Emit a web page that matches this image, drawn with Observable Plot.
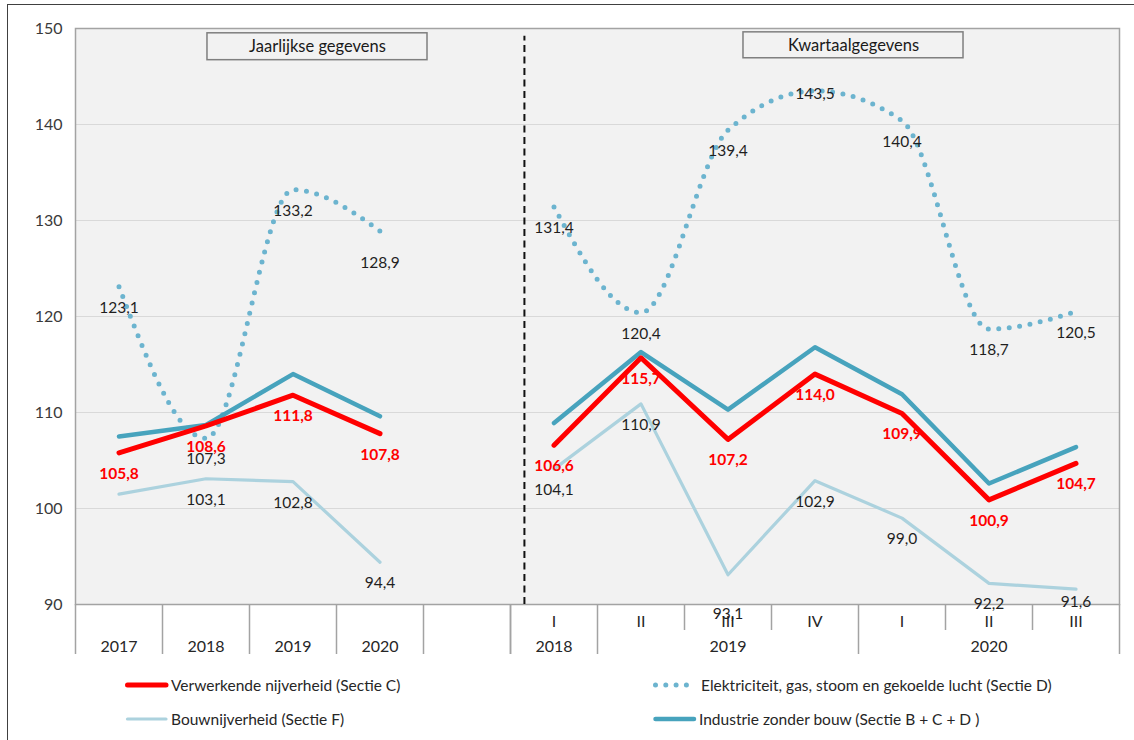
<!DOCTYPE html>
<html><head><meta charset="utf-8">
<script src="https://cdn.jsdelivr.net/npm/d3@7"></script>
<script src="https://cdn.jsdelivr.net/npm/@observablehq/plot@0.6"></script>
<style>
html,body{margin:0;padding:0;background:#fff;overflow:hidden;font-family:Lato,"Noto Sans",sans-serif;}
#chart{position:absolute;left:0;top:0;}
#frame{position:absolute;left:7px;top:4px;width:1200px;height:800px;border-left:1.5px solid #404040;border-top:1.5px solid #404040;pointer-events:none;z-index:5;}
.leg{position:absolute;display:flex;align-items:center;font-size:15.5px;color:#262626;white-space:nowrap;height:20px;}
.leg svg{display:block;margin-right:2px;}
</style></head><body>
<div id="chart"></div><div id="legend"></div><div id="frame"></div>
<script>
// ---- data ----
const annualCats = ["2017", "2018", "2019", "2020"];
const quarterCats = ["I", "II", "III", "IV", "I", "II", "III"];
const quarterYears = ["2018", "2019", "2019", "2019", "2020", "2020", "2020"];

const seriesC = "Verwerkende nijverheid (Sectie C)";
const seriesD = "Elektriciteit, gas, stoom en gekoelde lucht (Sectie D)";
const seriesF = "Bouwnijverheid (Sectie F)";
const seriesT = "Industrie zonder bouw (Sectie B + C + D )";

const sectieC_annual = [105.8, 108.6, 111.8, 107.8];
const sectieC_quarter = [106.6, 115.7, 107.2, 114.0, 109.9, 100.9, 104.7];
const sectieD_annual = [123.1, 107.3, 133.2, 128.9];
const sectieD_quarter = [131.4, 120.4, 139.4, 143.5, 140.4, 118.7, 120.5];
const sectieF_annual = [101.5, 103.1, 102.8, 94.4];
const sectieF_quarter = [104.1, 110.9, 93.1, 102.9, 99.0, 92.2, 91.6];
const industrie_annual = [107.5, 108.7, 114.0, 109.6];
const industrie_quarter = [108.9, 116.3, 110.3, 116.8, 111.9, 102.6, 106.4];

const yTicks = [90, 100, 110, 120, 130, 140, 150];
const panelTitles = ["Jaarlijkse gegevens", "Kwartaalgegevens"];
const legendOrder = [seriesC, seriesD, seriesF, seriesT];

// ---- build table ----
const qStart = annualCats.length + 1; // one empty slot between the two parts
const nSlots = qStart + quarterCats.length;
const seriesList = [
  {name: seriesF, annual: sectieF_annual, quarter: sectieF_quarter},
  {name: seriesD, annual: sectieD_annual, quarter: sectieD_quarter},
  {name: seriesT, annual: industrie_annual, quarter: industrie_quarter},
  {name: seriesC, annual: sectieC_annual, quarter: sectieC_quarter}
];
const rows = [];
for (const s of seriesList) {
  s.annual.forEach((v, i) => rows.push({series: s.name, period: "annual", slot: i, value: v}));
  s.quarter.forEach((v, i) => rows.push({series: s.name, period: "quarter", slot: qStart + i, value: v}));
}

// ---- styles ----
const style = {
  [seriesC]: {stroke: "#ff0000", strokeWidth: 5},
  [seriesD]: {stroke: "#6cb4cf", strokeWidth: 5, dash: "0 10.5"},
  [seriesF]: {stroke: "#acd2de", strokeWidth: 3.2},
  [seriesT]: {stroke: "#47a3bd", strokeWidth: 4.5}
};
// label offsets (px below point), default 21
const labelDy = {[`${seriesD}|3`]: 32, [`${seriesD}|8`]: 3, [`${seriesF}|7`]: 39, [`${seriesF}|11`]: 13};
const labelled = rows.filter(d => d.series !== seriesT && !(d.series === seriesF && d.slot === 0));
const fmt = v => v.toFixed(1).replace(".", ",");

// ---- axis decorations ----
const fullBounds = d3.range(0, qStart + 1);
const partBounds = [];
for (let i = 0; i <= quarterCats.length; i++) {
  const full = i === 0 || i === quarterCats.length || quarterYears[i] !== quarterYears[i - 1];
  (full ? fullBounds : partBounds).push(qStart + i);
}
const catLabels = [
  ...quarterCats.map((c, i) => ({x: qStart + i + 0.5, text: c, row: 1})),
  ...annualCats.map((c, i) => ({x: i + 0.5, text: c, row: 2})),
  ...Array.from(d3.group(quarterCats.map((c, i) => ({y: quarterYears[i], slot: qStart + i})), d => d.y),
    ([y, g]) => ({x: (d3.min(g, d => d.slot) + d3.max(g, d => d.slot) + 1) / 2, text: y, row: 2}))
];
const boxes = [
  {x1: 1.517, x2: 4.046, y1: 146.7, y2: 149.5, text: panelTitles[0]},
  {x1: 7.678, x2: 10.207, y1: 146.9, y2: 149.6, text: panelTitles[1]}
];
const dividerX = 5.16;

const lineMark = (name, curve) => Plot.line(rows.filter(d => d.series === name), {
  x: d => d.slot + 0.5, y: "value", z: "period", curve,
  stroke: style[name].stroke, strokeWidth: style[name].strokeWidth,
  strokeDasharray: style[name].dash, strokeLinecap: "round", strokeLinejoin: "round"
});

const labelMarks = (data, opts) =>
  d3.groups(data, d => labelDy[`${d.series}|${d.slot}`] ?? 21).map(([dy, g]) =>
    Plot.text(g, {x: d => d.slot + 0.5, y: "value", text: d => fmt(d.value), dy, fontSize: 15.5, ...opts}));

const plot = Plot.plot({
  width: 1134, height: 665,
  marginLeft: 75, marginRight: 15, marginTop: 28, marginBottom: 61,
  style: {fontFamily: "Lato, 'Noto Sans', sans-serif", background: "transparent"},
  x: {domain: [0, nSlots], axis: null},
  y: {domain: [90, 150], axis: null},
  marks: [
    Plot.frame({fill: "#f2f2f2", stroke: null}),
    Plot.ruleY(yTicks.slice(1, -1), {stroke: "#d9d9d9", strokeWidth: 1.2}),
    Plot.frame({stroke: "#a3a3a3", strokeWidth: 1.5}),
    Plot.axisY(yTicks, {tickSize: 0, tickPadding: 13, fontSize: 16, fill: "#3a3a3a", label: null}),
    Plot.ruleX(fullBounds, {x: d => d, y1: 90, y2: 90, insetBottom: -50, stroke: "#a3a3a3", strokeWidth: 1.5}),
    Plot.ruleX(partBounds, {x: d => d, y1: 90, y2: 90, insetBottom: -26, stroke: "#a3a3a3", strokeWidth: 1.5}),
    Plot.text(catLabels.filter(d => d.row === 1), {x: "x", y: () => 90, dy: 17, text: "text", fontSize: 16, fill: "#262626"}),
    Plot.text(catLabels.filter(d => d.row === 2), {x: "x", y: () => 90, dy: 42, text: "text", fontSize: 16, fill: "#262626"}),
    Plot.ruleX([dividerX], {y1: 90, y2: 149.2, stroke: "#111", strokeWidth: 2, strokeDasharray: "7 4.5"}),
    Plot.rect(boxes, {x1: "x1", x2: "x2", y1: "y1", y2: "y2", fill: "#f2f2f2", stroke: "#7f7f7f", strokeWidth: 1.5}),
    Plot.text(boxes, {x: d => (d.x1 + d.x2) / 2, y: d => (d.y1 + d.y2) / 2, text: "text", fontSize: 16.5, fill: "#1a1a1a"}),
    lineMark(seriesF, "linear"),
    lineMark(seriesD, "monotone-x"),
    lineMark(seriesT, "linear"),
    lineMark(seriesC, "linear"),
    ...labelMarks(labelled.filter(d => d.series !== seriesC), {fill: "#1f1f1f"}),
    ...labelMarks(labelled.filter(d => d.series === seriesC), {fill: "#ff0000", fontWeight: "bold"})
  ]
});
document.getElementById("chart").appendChild(plot);

// ---- legend (HTML, below the SVG) ----
const legendPos = [[125, 675], [653, 675], [125, 709], [653, 709]];
const legend = document.getElementById("legend");
legendOrder.forEach((name, i) => {
  const st = style[name];
  const item = document.createElement("div");
  item.className = "leg";
  item.style.left = legendPos[i][0] + "px";
  item.style.top = legendPos[i][1] + "px";
  const w = st.dash ? 46 : 44;
  item.innerHTML = `<svg width="${w}" height="20"><line x1="2.5" x2="${w - 3}" y1="10" y2="10" stroke="${st.stroke}" stroke-width="${st.strokeWidth}" stroke-linecap="round" ${st.dash ? `stroke-dasharray="0 10.3"` : ""}/></svg><span>${name}</span>`;
  legend.appendChild(item);
});
</script>
</body></html>
